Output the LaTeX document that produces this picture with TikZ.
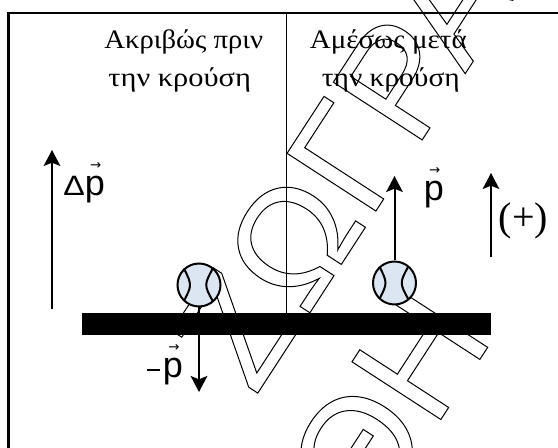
\documentclass[tikz,border=0pt]{standalone}
\usepackage{fontspec}
\usepackage{graphicx}
\setmainfont{Liberation Serif}
\newfontfamily\sansf{Liberation Sans}
\newfontfamily\arrowf{DejaVu Sans}
\usetikzlibrary{arrows.meta}
\definecolor{ballfill}{RGB}{220,230,242}
\newcommand{\vecp}{\makebox[0pt][l]{\raisebox{20pt}{\hspace{4pt}{\arrowf\fontsize{10pt}{10pt}\selectfont →}}}p}
\newcommand{\smallsans}{\fontsize{21pt}{21pt}\selectfont}
\newcommand{\outlinetext}{\special{pdf:literal direct 1 Tr 0.75 w}}
\newcommand{\fitw}[2]{\resizebox{#1}{\height}{#2}}
\tikzset{
  wm/.style={inner sep=0pt, outer sep=0pt, anchor=base west, rotate=57,
    font=\sansf\fontsize{115.5pt}{115.5pt}\selectfont},
  frameline/.style={line width=1.8pt},
  divider/.style={line width=1.1pt},
  vec/.style={line width=1.5pt, -{Stealth[length=12pt,width=12.5pt,inset=2.5pt]}},
  title/.style={inner sep=0pt, anchor=base, font=\fontsize{20pt}{20pt}\selectfont},
  lab/.style={inner sep=0pt, anchor=base west, font=\sansf\fontsize{27pt}{27pt}\selectfont},
  ball/.style={circle, draw=black, fill=ballfill, line width=1.5pt, minimum size=32.25pt, inner sep=0pt},
  seam/.style={line width=1.5pt},
  barbox/.style={fill=black, draw=none, inner sep=0pt, minimum width=306.75pt, minimum height=16.5pt}
}
\begin{document}
\begin{tikzpicture}[x=0.75pt,y=-0.75pt]
\useasboundingbox (0,0) rectangle (558,448);
% watermark
\node[wm] (wmA) at (255.1,397.2) {\outlinetext ΖΩΓΡΑ};
\node[wm] (wmB) at (368.7,530.6) {\outlinetext ΘΗ};
% frame and divider
\coordinate (fbl) at (8.5,452);
\coordinate (ftl) at (8.5,13);
\coordinate (ftr) at (562,13);
\draw[frameline] (fbl) -- (ftl) -- (ftr);
\coordinate (dtop) at (286.5,13);
\coordinate (dbot) at (286.5,313);
\draw[divider] (dtop) -- (dbot);
% titles
\node[title] (t1a) at (183.7,48.3) {\fitw{119pt}{Ακριβώς πριν}};
\node[title] (t1b) at (179.7,86.7) {\fitw{107pt}{την κρούση}};
\node[title] (t2a) at (388.3,48.3) {\fitw{117.75pt}{Αμέσως μετά}};
\node[title] (t2b) at (390.8,86.7) {\fitw{103.5pt}{την κρούση}};
% balls
\node[ball] (b1) at (199,285) {};
\node[ball] (b2) at (394.5,283) {};
\foreach \b in {b1,b2}{
  \draw[seam] ([shift={(-15,-16.5)}]\b.center) .. controls ([shift={(-7,0)}]\b.center) .. ([shift={(-15,16)}]\b.center);
  \draw[seam] ([shift={(14,-17)}]\b.center) .. controls ([shift={(5,0)}]\b.center) .. ([shift={(14,16.5)}]\b.center);
}
% arrows
\coordinate (dpbot) at (52,309);
\coordinate (dptop) at (52,150);
\draw[vec] (dpbot) -- (dptop);
\coordinate (ptip) at (394.5,176);
\draw[vec] (b2.north) -- (ptip);
\coordinate (mptip) at (199,392);
\draw[vec] (b1.south) -- (mptip);
\coordinate (plbot) at (491,257);
\coordinate (pltop) at (491,173);
\draw[vec] (plbot) -- (pltop);
% bar
\node[barbox] (bar) at (286.5,324) {};
% labels
\node[lab] (dpl) at (63,196) {{\smallsans\scalebox{1.15}[1]{Δ}}\vecp};
\node[lab] (mpl) at (147,378) {\rule[5.25pt]{9.75pt}{1.3pt}\hspace{2pt}\vecp};
\node[lab] (pl) at (423.5,201) {\vecp};
\node[inner sep=0pt, anchor=base west, font=\fontsize{30pt}{30pt}\selectfont] (plus) at (498.5,230.5) {(+)};
\end{tikzpicture}
\end{document}
